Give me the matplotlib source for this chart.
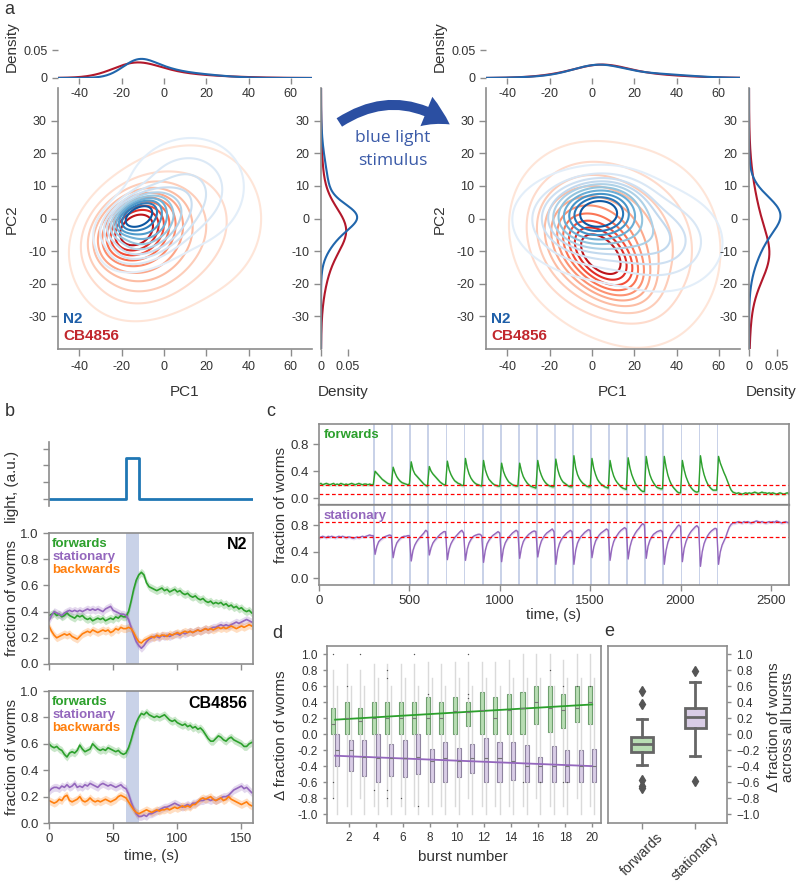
import numpy as np
import matplotlib
matplotlib.use("Agg")
import matplotlib.pyplot as plt
from matplotlib.colors import ListedColormap
from matplotlib.patches import FancyArrowPatch

plt.rcParams['font.family'] = ['Liberation Sans', 'DejaVu Sans']
plt.rcParams['axes.unicode_minus'] = False

W, H = 798, 882

# ---------------- data ----------------
# panel a: gaussian mixtures, rows = (mean x, mean y, sd x, sd y, rho, weight)
n2_pre = [[-13, 1, 7, 3.5, 0.5, 0.30], [-7, -3, 10, 5.5, 0.4, 0.40], [10, 8, 15, 9, 0.1, 0.30]]
cb_pre = [[-14, -3, 10, 6, 0.3, 0.40], [-8, -8, 15, 10, 0.2, 0.42], [15, 0, 20, 14, 0.0, 0.18]]
n2_post = [[3, 2, 11, 5, 0.1, 0.40], [5, -2, 20, 8, -0.1, 0.45], [35, -8, 15, 8, 0.0, 0.15]]
cb_post = [[5, -12, 11, 7, -0.5, 0.30], [0, -5, 17, 12, -0.1, 0.45], [25, -10, 20, 16, 0.0, 0.25]]

# panel b: single light pulse and mean fractions every 2 s
light_t = [0, 60, 70, 159]
light_v = [0, 1, 0, 0]
pulse = [60, 70]
t_b = np.arange(0, 160, 2)
n2_fwd = [0.37, 0.38, 0.39, 0.37, 0.38, 0.36, 0.37, 0.39, 0.37, 0.36, 0.35, 0.37, 0.36, 0.37, 0.35, 0.34,
          0.35, 0.33, 0.34, 0.35, 0.34, 0.35, 0.33, 0.34, 0.35, 0.34, 0.36, 0.35, 0.37, 0.36, 0.36, 0.40,
          0.48, 0.57, 0.64, 0.68, 0.70, 0.68, 0.62, 0.59, 0.58, 0.57, 0.56, 0.57, 0.58, 0.56, 0.57, 0.55,
          0.56, 0.57, 0.55, 0.56, 0.54, 0.53, 0.54, 0.52, 0.51, 0.52, 0.50, 0.49, 0.50, 0.48, 0.47, 0.48,
          0.46, 0.47, 0.46, 0.47, 0.45, 0.46, 0.44, 0.45, 0.43, 0.44, 0.42, 0.43, 0.41, 0.40, 0.41, 0.39]
n2_sta = [0.33, 0.37, 0.40, 0.39, 0.38, 0.37, 0.39, 0.40, 0.41, 0.40, 0.41, 0.40, 0.41, 0.40, 0.41, 0.42,
          0.41, 0.42, 0.41, 0.42, 0.41, 0.40, 0.42, 0.43, 0.44, 0.41, 0.40, 0.39, 0.38, 0.38, 0.37, 0.34,
          0.28, 0.22, 0.17, 0.14, 0.12, 0.14, 0.17, 0.19, 0.20, 0.21, 0.21, 0.20, 0.22, 0.21, 0.22, 0.21,
          0.22, 0.23, 0.23, 0.22, 0.24, 0.23, 0.24, 0.25, 0.24, 0.25, 0.26, 0.25, 0.26, 0.27, 0.26, 0.27,
          0.28, 0.28, 0.29, 0.30, 0.29, 0.30, 0.29, 0.30, 0.31, 0.32, 0.31, 0.32, 0.33, 0.34, 0.33, 0.32]
n2_bwd = [0.29, 0.25, 0.22, 0.20, 0.21, 0.22, 0.23, 0.22, 0.23, 0.21, 0.20, 0.19, 0.21, 0.23, 0.24, 0.25,
          0.24, 0.26, 0.25, 0.24, 0.25, 0.26, 0.25, 0.26, 0.24, 0.25, 0.27, 0.26, 0.28, 0.27, 0.27, 0.28,
          0.27, 0.24, 0.20, 0.17, 0.16, 0.18, 0.19, 0.20, 0.21, 0.20, 0.22, 0.21, 0.22, 0.22, 0.21, 0.23,
          0.22, 0.23, 0.24, 0.23, 0.24, 0.25, 0.24, 0.25, 0.24, 0.25, 0.26, 0.25, 0.26, 0.27, 0.26, 0.27,
          0.26, 0.27, 0.28, 0.27, 0.28, 0.27, 0.28, 0.29, 0.28, 0.27, 0.28, 0.29, 0.28, 0.29, 0.30, 0.29]
cb_fwd = [0.60, 0.58, 0.57, 0.58, 0.56, 0.55, 0.52, 0.50, 0.53, 0.54, 0.53, 0.55, 0.59, 0.56, 0.54, 0.55,
          0.56, 0.60, 0.58, 0.56, 0.55, 0.56, 0.55, 0.57, 0.56, 0.55, 0.54, 0.55, 0.53, 0.52, 0.53, 0.57,
          0.63, 0.70, 0.76, 0.80, 0.83, 0.82, 0.84, 0.82, 0.81, 0.80, 0.81, 0.80, 0.81, 0.82, 0.80, 0.78,
          0.77, 0.78, 0.76, 0.75, 0.74, 0.75, 0.73, 0.74, 0.72, 0.73, 0.71, 0.72, 0.70, 0.67, 0.64, 0.62,
          0.62, 0.64, 0.66, 0.65, 0.63, 0.62, 0.64, 0.65, 0.63, 0.62, 0.61, 0.60, 0.58, 0.58, 0.60, 0.61]
cb_sta = [0.24, 0.26, 0.27, 0.27, 0.26, 0.28, 0.27, 0.29, 0.27, 0.28, 0.30, 0.27, 0.28, 0.27, 0.29, 0.28,
          0.30, 0.29, 0.28, 0.27, 0.29, 0.30, 0.29, 0.28, 0.29, 0.28, 0.27, 0.28, 0.29, 0.27, 0.26, 0.22,
          0.16, 0.11, 0.07, 0.05, 0.05, 0.06, 0.05, 0.07, 0.07, 0.08, 0.09, 0.10, 0.11, 0.12, 0.12, 0.13,
          0.14, 0.15, 0.14, 0.13, 0.12, 0.13, 0.14, 0.13, 0.15, 0.15, 0.16, 0.17, 0.17, 0.18, 0.18, 0.17,
          0.18, 0.17, 0.18, 0.19, 0.20, 0.20, 0.21, 0.23, 0.25, 0.26, 0.27, 0.28, 0.26, 0.27, 0.25, 0.23]
cb_bwd = [0.17, 0.16, 0.15, 0.16, 0.18, 0.17, 0.20, 0.21, 0.17, 0.16, 0.17, 0.18, 0.20, 0.17, 0.16, 0.17,
          0.19, 0.17, 0.16, 0.17, 0.16, 0.17, 0.18, 0.17, 0.16, 0.17, 0.18, 0.20, 0.21, 0.20, 0.19, 0.16,
          0.13, 0.10, 0.08, 0.07, 0.08, 0.09, 0.10, 0.09, 0.08, 0.09, 0.10, 0.09, 0.10, 0.10, 0.11, 0.10,
          0.11, 0.12, 0.11, 0.12, 0.13, 0.12, 0.13, 0.12, 0.14, 0.14, 0.16, 0.18, 0.19, 0.18, 0.19, 0.20,
          0.18, 0.17, 0.18, 0.19, 0.17, 0.18, 0.20, 0.18, 0.17, 0.16, 0.15, 0.14, 0.15, 0.16, 0.14, 0.13]
ci_b = 0.03

# panel c: 20 bursts, fractions every 10 s
burst_on = np.arange(300, 2300, 100)
burst_len = 10
t_c = np.arange(0, 2610, 10)
c_fwd = [0.21, 0.22, 0.20, 0.21, 0.22, 0.21, 0.20, 0.21, 0.22, 0.20,
         0.21, 0.20, 0.22, 0.21, 0.20, 0.21, 0.20, 0.21, 0.22, 0.21,
         0.20, 0.21, 0.22, 0.21, 0.20, 0.21, 0.21, 0.20, 0.21, 0.20,
         0.20, 0.40, 0.37, 0.34, 0.31, 0.28, 0.26, 0.24, 0.22, 0.21,
         0.20, 0.46, 0.38, 0.32, 0.28, 0.25, 0.23, 0.22, 0.21, 0.20,
         0.21, 0.54, 0.42, 0.36, 0.33, 0.30, 0.27, 0.24, 0.21, 0.19,
         0.18, 0.47, 0.40, 0.36, 0.33, 0.30, 0.27, 0.24, 0.22, 0.20,
         0.20, 0.55, 0.42, 0.35, 0.30, 0.26, 0.24, 0.22, 0.21, 0.19,
         0.19, 0.59, 0.45, 0.36, 0.30, 0.26, 0.23, 0.21, 0.20, 0.19,
         0.18, 0.56, 0.42, 0.34, 0.28, 0.25, 0.22, 0.20, 0.19, 0.18,
         0.18, 0.52, 0.40, 0.33, 0.28, 0.24, 0.22, 0.20, 0.19, 0.18,
         0.18, 0.52, 0.40, 0.32, 0.27, 0.23, 0.20, 0.18, 0.17, 0.16,
         0.15, 0.56, 0.42, 0.34, 0.28, 0.24, 0.21, 0.19, 0.18, 0.17,
         0.17, 0.58, 0.43, 0.34, 0.28, 0.24, 0.22, 0.20, 0.18, 0.17,
         0.17, 0.63, 0.45, 0.35, 0.29, 0.25, 0.22, 0.20, 0.18, 0.17,
         0.17, 0.59, 0.44, 0.35, 0.28, 0.24, 0.21, 0.19, 0.17, 0.16,
         0.15, 0.56, 0.42, 0.33, 0.27, 0.23, 0.20, 0.17, 0.15, 0.14,
         0.13, 0.60, 0.45, 0.35, 0.28, 0.22, 0.18, 0.15, 0.12, 0.10,
         0.10, 0.62, 0.46, 0.35, 0.28, 0.23, 0.19, 0.16, 0.15, 0.14,
         0.14, 0.62, 0.46, 0.34, 0.26, 0.20, 0.16, 0.13, 0.10, 0.08,
         0.08, 0.56, 0.42, 0.32, 0.25, 0.19, 0.15, 0.12, 0.10, 0.09,
         0.10, 0.63, 0.46, 0.35, 0.27, 0.21, 0.17, 0.14, 0.12, 0.12,
         0.12, 0.62, 0.52, 0.45, 0.38, 0.32, 0.25, 0.18, 0.12, 0.09,
         0.08, 0.07, 0.08, 0.07, 0.06, 0.07, 0.08, 0.07, 0.08, 0.07,
         0.08, 0.09, 0.08, 0.07, 0.08, 0.09, 0.08, 0.08, 0.07, 0.08,
         0.07, 0.08, 0.07, 0.06, 0.07, 0.08, 0.07, 0.06, 0.07, 0.08,
         0.07]
c_sta = [0.60, 0.62, 0.63, 0.62, 0.61, 0.63, 0.62, 0.63, 0.62, 0.61,
         0.62, 0.63, 0.62, 0.63, 0.62, 0.61, 0.62, 0.62, 0.61, 0.60,
         0.61, 0.62, 0.61, 0.62, 0.63, 0.62, 0.63, 0.64, 0.65, 0.64,
         0.64, 0.36, 0.48, 0.55, 0.58, 0.60, 0.62, 0.63, 0.64, 0.65,
         0.64, 0.31, 0.45, 0.53, 0.57, 0.60, 0.62, 0.63, 0.63, 0.64,
         0.64, 0.26, 0.42, 0.50, 0.55, 0.59, 0.62, 0.65, 0.68, 0.72,
         0.70, 0.35, 0.46, 0.53, 0.57, 0.60, 0.63, 0.66, 0.68, 0.70,
         0.70, 0.28, 0.44, 0.52, 0.57, 0.61, 0.64, 0.67, 0.70, 0.72,
         0.68, 0.27, 0.44, 0.53, 0.58, 0.62, 0.64, 0.65, 0.66, 0.66,
         0.64, 0.24, 0.42, 0.52, 0.57, 0.61, 0.64, 0.66, 0.68, 0.70,
         0.68, 0.25, 0.44, 0.53, 0.58, 0.62, 0.65, 0.68, 0.70, 0.72,
         0.70, 0.30, 0.46, 0.55, 0.60, 0.63, 0.66, 0.68, 0.70, 0.71,
         0.70, 0.32, 0.47, 0.56, 0.61, 0.65, 0.68, 0.70, 0.72, 0.74,
         0.70, 0.21, 0.42, 0.52, 0.58, 0.62, 0.65, 0.68, 0.70, 0.72,
         0.70, 0.21, 0.42, 0.53, 0.59, 0.63, 0.66, 0.69, 0.71, 0.73,
         0.72, 0.31, 0.47, 0.56, 0.61, 0.65, 0.68, 0.70, 0.72, 0.74,
         0.72, 0.27, 0.45, 0.55, 0.61, 0.65, 0.69, 0.72, 0.74, 0.76,
         0.74, 0.29, 0.47, 0.57, 0.63, 0.68, 0.72, 0.75, 0.79, 0.82,
         0.80, 0.30, 0.48, 0.57, 0.62, 0.66, 0.68, 0.70, 0.71, 0.72,
         0.70, 0.21, 0.42, 0.54, 0.61, 0.66, 0.70, 0.73, 0.77, 0.80,
         0.78, 0.25, 0.45, 0.55, 0.62, 0.67, 0.71, 0.74, 0.77, 0.79,
         0.76, 0.18, 0.40, 0.52, 0.59, 0.64, 0.68, 0.71, 0.73, 0.75,
         0.74, 0.21, 0.40, 0.50, 0.56, 0.62, 0.70, 0.77, 0.81, 0.83,
         0.83, 0.84, 0.85, 0.84, 0.83, 0.85, 0.84, 0.85, 0.84, 0.83,
         0.84, 0.85, 0.86, 0.85, 0.84, 0.85, 0.84, 0.83, 0.84, 0.85,
         0.84, 0.85, 0.84, 0.86, 0.85, 0.84, 0.83, 0.84, 0.85, 0.84,
         0.83]
ci_c = 0.025
fwd_ref = [0.20, 0.07]
sta_ref = [0.84, 0.62]

# panel d: per-burst box stats
bursts = np.arange(1, 21)
fwd_q1 = [0.0, 0.0, 0.0, 0.0, 0.0, 0.0, 0.0, 0.0, 0.0, 0.0, 0.10, 0.0, 0.0, 0.0, 0.0, 0.13, 0.02, 0.07, 0.15, 0.12]
fwd_med = [0.13, 0.20, 0.16, 0.20, 0.20, 0.20, 0.20, 0.20, 0.20, 0.29, 0.27, 0.30, 0.20, 0.30, 0.33, 0.40, 0.33, 0.30, 0.33, 0.40]
fwd_q3 = [0.33, 0.40, 0.33, 0.40, 0.40, 0.40, 0.40, 0.46, 0.40, 0.46, 0.40, 0.53, 0.46, 0.50, 0.53, 0.60, 0.60, 0.50, 0.60, 0.60]
fwd_lo = [-0.80, -0.90, -0.80, -0.90, -0.90, -0.90, -0.90, -0.90, -0.90, -0.90, -0.80, -0.90, -0.90, -0.90, -0.90, -0.80, -0.90, -0.90, -0.80, -0.90]
fwd_hi = [0.80, 0.87, 0.80, 0.87, 0.87, 0.87, 0.87, 0.90, 0.87, 0.90, 0.90, 0.90, 0.90, 0.93, 1.0, 1.0, 1.0, 0.93, 1.0, 1.0]
fwd_out = [[1.0, -0.6, -0.8], [0.6], [1.0], [-0.7], [0.8, 0.7, -0.7, -0.8], [-0.8], [1.0], [0.5], [], [],
           [1.0, 0.45, 0.5], [], [], [], [-0.6], [], [0.8], [0.6, -0.6], [0.6], [0.6]]
sta_q1 = [-0.40, -0.46, -0.52, -0.60, -0.52, -0.53, -0.50, -0.60, -0.60, -0.53, -0.49, -0.60, -0.60, -0.57, -0.60, -0.60, -0.60, -0.60, -0.60, -0.60]
sta_med = [-0.20, -0.20, -0.28, -0.30, -0.30, -0.30, -0.28, -0.33, -0.30, -0.33, -0.30, -0.30, -0.30, -0.33, -0.40, -0.40, -0.40, -0.40, -0.40, -0.40]
sta_q3 = [0.0, -0.07, -0.07, 0.0, -0.12, -0.07, 0.0, -0.18, -0.10, -0.17, -0.12, -0.05, -0.10, -0.10, -0.13, -0.28, -0.15, -0.20, -0.20, -0.18]
sta_lo = [-1.0] * 20
sta_hi = [0.60, 0.60, 0.60, 0.70, 0.60, 0.70, 0.60, 0.70, 0.60, 0.70, 0.60, 0.70, 0.60, 0.70, 0.70, 0.70, 0.60, 0.70, 0.70, 0.70]
sta_out = [[], [], [], [], [], [], [-0.9], [], [], [], [], [], [], [], [], [-0.6], [], [-0.6], [], []]
fwd_fit = [0.18, 0.37]
sta_fit = [-0.27, -0.40]

# panel e: pooled over bursts
e_names = ['forwards', 'stationary']
e_q1 = [-0.22, 0.07]
e_med = [-0.125, 0.21]
e_q3 = [-0.04, 0.325]
e_lo = [-0.39, -0.27]
e_hi = [0.19, 0.65]
e_out = [[0.54, 0.37, -0.57, -0.65, -0.67], [0.79, -0.59]]

# ---------------- colours ----------------
BLUE, RED = '#2166ac', '#b2182b'
GREEN, PURPLE, ORANGE = '#2ca02c', '#9467bd', '#ff7f0e'
LGREEN, LPURPLE = '#b8ddb3', '#d9cde6'
STIM = '#c9d2e8'
GRAY = '#8c8c8c'
TXT = '#333333'
LAB = 11
BLUES = ListedColormap(plt.cm.Blues(np.linspace(0.1, 0.85, 256)))
REDS = ListedColormap(plt.cm.Reds(np.linspace(0.1, 0.8, 256)))

fig = plt.figure(figsize=(W / 100, H / 100), dpi=100)


def add_ax(x0, y0, x1, y1):
    return fig.add_axes([x0 / W, 1 - y1 / H, (x1 - x0) / W, (y1 - y0) / H])


def ftext(x, y, s, **kw):
    fig.text(x / W, 1 - y / H, s, **kw)


def style(ax, spines=('left', 'bottom'), size=9):
    for k, sp in ax.spines.items():
        sp.set_visible(k in spines)
        sp.set_color(GRAY)
        sp.set_linewidth(1.2)
    ax.tick_params(colors=GRAY, labelcolor=TXT, labelsize=size, length=4, width=1)


def mix_density(comps, X, Y):
    Z = np.zeros_like(X)
    for mx, my, sx, sy, r, w in comps:
        dx = (X - mx) / sx
        dy = (Y - my) / sy
        q = (dx ** 2 - 2 * r * dx * dy + dy ** 2) / (1 - r ** 2)
        Z += w * np.exp(-q / 2) / (2 * np.pi * sx * sy * np.sqrt(1 - r ** 2))
    return Z


def iso_levels(Z, props):
    vals = np.sort(Z.ravel())[::-1]
    cum = np.cumsum(vals) / vals.sum()
    idx = np.searchsorted(cum, 1 - np.asarray(props))
    return np.unique(np.take(vals, idx, mode='clip'))


# ---------------- panel a ----------------
xg = np.linspace(-90, 110, 401)
yg = np.linspace(-80, 80, 321)
X, Y = np.meshgrid(xg, yg)
step = xg[1] - xg[0]
props = np.linspace(0.05, 0.85, 10)

for x0, n2c, cbc, dmax in [(58, n2_pre, cb_pre, 0.0815), (486, n2_post, cb_post, 0.0786)]:
    main = add_ax(x0, 88, x0 + 254, 349)
    top = add_ax(x0, 45, x0 + 254, 78)
    side = add_ax(x0 + 263, 88, x0 + 307, 349)
    zn = mix_density(n2c, X, Y)
    zc = mix_density(cbc, X, Y)
    main.contour(X, Y, zc, levels=iso_levels(zc, props), cmap=REDS, linewidths=1.5)
    main.contour(X, Y, zn, levels=iso_levels(zn, props), cmap=BLUES, linewidths=1.5)
    main.set_xlim(-50, 70)
    main.set_ylim(-40, 40)
    main.set_xticks(range(-40, 61, 20))
    main.set_yticks(range(-30, 31, 10))
    style(main)
    main.tick_params(length=5)
    main.text(0.02, 0.10, 'N2', color='#1f5fa8', fontsize=11, fontweight='bold', transform=main.transAxes)
    main.text(0.02, 0.035, 'CB4856', color='#c1272d', fontsize=11, fontweight='bold', transform=main.transAxes)

    for z, c in [(zc, RED), (zn, BLUE)]:
        top.plot(xg, z.sum(axis=0) * step, color=c, lw=1.5)
        side.plot(z.sum(axis=1) * step, yg, color=c, lw=1.5)
    top.set_xlim(-50, 70)
    top.set_ylim(0, 0.059)
    top.set_xticks(range(-40, 61, 20))
    top.set_yticks([0, 0.05])
    top.set_yticklabels(['0', '0.05'])
    style(top, spines=())
    top.tick_params(axis='x', pad=3)

    side.set_ylim(-40, 40)
    side.set_xlim(0, dmax)
    side.set_yticks(range(-30, 31, 10))
    side.set_xticks([0, 0.05])
    side.set_xticklabels(['0', '0.05'])
    style(side, spines=('left',))
    side.tick_params(length=5)

    ftext(x0 - 46, 47, 'Density', rotation=90, ha='center', va='center', fontsize=LAB, color=TXT)
    ftext(x0 - 46, 219, 'PC2', rotation=90, ha='center', va='center', fontsize=LAB, color=TXT)
    ftext(x0 + 127, 392, 'PC1', ha='center', va='center', fontsize=LAB, color=TXT)
    ftext(x0 + 285, 392, 'Density', ha='center', va='center', fontsize=LAB, color=TXT)

arrow = FancyArrowPatch((337 / W, 1 - 124 / H), (452 / W, 1 - 126 / H), transform=fig.transFigure,
                        connectionstyle='arc3,rad=-0.35',
                        arrowstyle='simple,tail_width=0.6,head_width=1.9,head_length=1.6',
                        mutation_scale=12, color='#2b4fa2', lw=0)
fig.patches.append(arrow)
ftext(393, 138, 'blue light', ha='center', va='center', fontsize=12.5, color='#3a5aa8', family=['Open Sans', 'DejaVu Sans'])
ftext(393, 161, 'stimulus', ha='center', va='center', fontsize=12.5, color='#3a5aa8', family=['Open Sans', 'DejaVu Sans'])

# ---------------- panel b ----------------
ax_l = add_ax(49, 442, 253, 506)
ax_l.plot(light_t, light_v, drawstyle='steps-post', color='#1f77b4', lw=2)
ax_l.set_xlim(0, 159)
ax_l.set_ylim(-0.17, 1.4)
ax_l.set_yticks([0, 0.41, 0.83, 1.24])
ax_l.set_yticklabels([])
ax_l.set_xticks([])
style(ax_l, spines=('left',))
ftext(12, 487, 'light, (a.u.)', rotation=90, ha='center', va='center', fontsize=LAB, color=TXT)

for (y0, y1, fw, st, bw, name, show_x) in [
        (533, 664, n2_fwd, n2_sta, n2_bwd, 'N2', False),
        (691, 823, cb_fwd, cb_sta, cb_bwd, 'CB4856', True)]:
    ax = add_ax(49, y0, 253, y1)
    ax.axvspan(pulse[0], pulse[1], color=STIM, lw=0)
    for vals, c in [(fw, GREEN), (st, PURPLE), (bw, ORANGE)]:
        v = np.array(vals)
        ax.fill_between(t_b, v - ci_b, v + ci_b, color=c, alpha=0.25, lw=0)
        ax.plot(t_b, v, color=c, lw=1.2)
    ax.set_xlim(0, 159)
    ax.set_ylim(0, 1.0)
    ax.set_yticks(np.arange(0, 1.01, 0.2))
    ax.set_yticklabels([f'{v:.1f}' for v in np.arange(0, 1.01, 0.2)])
    ax.set_xticks([0, 50, 100, 150])
    style(ax, spines=('left', 'bottom', 'top', 'right'), size=9.5)
    if not show_x:
        ax.set_xticklabels([])
    ax.text(0.015, 0.895, 'forwards', color=GREEN, fontsize=9.5, fontweight='bold', transform=ax.transAxes)
    ax.text(0.015, 0.795, 'stationary', color=PURPLE, fontsize=9.5, fontweight='bold', transform=ax.transAxes)
    ax.text(0.015, 0.695, 'backwards', color=ORANGE, fontsize=9.5, fontweight='bold', transform=ax.transAxes)
    ax.text(0.97, 0.875, name, color='black', fontsize=11.5, fontweight='bold', ha='right', transform=ax.transAxes)
    ftext(12, (y0 + y1) / 2, 'fraction of worms', rotation=90, ha='center', va='center', fontsize=LAB, color=TXT)
ftext(151, 856, 'time, (s)', ha='center', va='center', fontsize=LAB, color=TXT)

# ---------------- panel c ----------------
for (y0, y1, vals, c, ref, lab, show_x) in [
        (424, 505, c_fwd, GREEN, fwd_ref, 'forwards', False),
        (505, 585, c_sta, PURPLE, sta_ref, 'stationary', True)]:
    ax = add_ax(319, y0, 789, y1)
    for t0 in burst_on:
        ax.axvspan(t0, t0 + burst_len, color=STIM, lw=0)
    v = np.array(vals)
    ax.fill_between(t_c, v - ci_c, v + ci_c, color=c, alpha=0.2, lw=0)
    ax.plot(t_c, v, color=c, lw=1)
    for r in ref:
        ax.axhline(r, color='red', ls='--', lw=0.9, dashes=(3, 2))
    ax.set_xlim(0, 2600)
    ax.set_ylim(-0.1, 1.1)
    ax.set_yticks([0, 0.4, 0.8])
    ax.set_yticklabels(['0.0', '0.4', '0.8'])
    ax.set_xticks(range(0, 2600, 500))
    style(ax, spines=('left', 'bottom', 'top', 'right'), size=9.5)
    if not show_x:
        ax.set_xticklabels([])
        ax.spines['bottom'].set_color('#666666')
        ax.spines['bottom'].set_linewidth(1.6)
    ax.text(0.01, 0.83, lab, color=c, fontsize=9.5, fontweight='bold', transform=ax.transAxes)
ftext(281, 505, 'fraction of worms', rotation=90, ha='center', va='center', fontsize=LAB, color=TXT)
ftext(554, 615, 'time, (s)', ha='center', va='center', fontsize=LAB, color=TXT)

# ---------------- panel d ----------------
ax_d = add_ax(327, 646, 601, 823)


def box_stats(q1, med, q3, lo, hi, out):
    return [dict(q1=a, med=b, q3=c, whislo=d, whishi=e, fliers=f) for a, b, c, d, e, f in zip(q1, med, q3, lo, hi, out)]


for stats, pos, face, edge in [
        (box_stats(fwd_q1, fwd_med, fwd_q3, fwd_lo, fwd_hi, fwd_out), bursts - 0.15, LGREEN, '#6f9f6f'),
        (box_stats(sta_q1, sta_med, sta_q3, sta_lo, sta_hi, sta_out), bursts + 0.15, LPURPLE, '#8f84a0')]:
    ax_d.bxp(stats, positions=pos, widths=0.3, patch_artist=True, showcaps=False, manage_ticks=False,
             boxprops=dict(facecolor=face, edgecolor=edge, lw=0.8),
             medianprops=dict(color='#777777', lw=0.8),
             whiskerprops=dict(color='#dadada', lw=1),
             flierprops=dict(marker='.', ms=2, mfc='#555555', mec='none'))
ax_d.plot([bursts[0], bursts[-1]], fwd_fit, color=GREEN, lw=1.3)
ax_d.plot([bursts[0], bursts[-1]], sta_fit, color=PURPLE, lw=1.3)
ax_d.set_xlim(0.4, 20.65)
ax_d.set_ylim(-1.11, 1.1)
ax_d.set_xticks(range(2, 21, 2))
ax_d.set_xticklabels([str(i) for i in range(2, 21, 2)])
yt = np.round(np.arange(-1.0, 1.01, 0.2), 1)
ax_d.set_yticks(yt)
ax_d.set_yticklabels([f'{v:.1f}' if v != 0 else '0.0' for v in yt])
style(ax_d, spines=('left', 'bottom', 'top', 'right'), size=8.5)
ax_d.tick_params(length=3)
ftext(281, 735, '\u0394 fraction of worms', rotation=90, ha='center', va='center', fontsize=LAB, color=TXT)
ftext(463, 857, 'burst number', ha='center', va='center', fontsize=LAB, color=TXT)

# ---------------- panel e ----------------
ax_e = add_ax(608, 646, 727, 823)
e_stats = box_stats(e_q1, e_med, e_q3, e_lo, e_hi, e_out)
for i, face in enumerate([LGREEN, LPURPLE]):
    ax_e.bxp([e_stats[i]], positions=[i], widths=0.4, patch_artist=True, manage_ticks=False,
             boxprops=dict(facecolor=face, edgecolor='#666666', lw=2),
             medianprops=dict(color='#666666', lw=2),
             whiskerprops=dict(color='#666666', lw=2),
             capprops=dict(color='#666666', lw=2),
             capwidths=0.2,
             flierprops=dict(marker='d', ms=5, mfc='#555555', mec='#555555'))
ax_e.set_xlim(-0.64, 1.6)
ax_e.set_ylim(-1.11, 1.1)
ax_e.set_xticks([0, 1])
ax_e.set_xticklabels(e_names, rotation=45, ha='center')
ax_e.yaxis.tick_right()
ax_e.set_yticks(yt)
ax_e.set_yticklabels([f'{v:.1f}'.replace('-', '\u2212') if v != 0 else '0.0' for v in yt])
style(ax_e, spines=('left', 'bottom', 'top', 'right'), size=8.5)
ax_e.tick_params(axis='y', length=3)
ax_e.tick_params(axis='x', labelsize=10, length=4, pad=1)
ftext(781, 727, '\u0394 fraction of worms\nacross all bursts', rotation=90, ha='center', va='center',
      fontsize=LAB, color=TXT, linespacing=1.05)

# panel letters
for x, y, s in [(4, 10, 'a'), (5, 412, 'b'), (266, 412, 'c'), (272, 633, 'd'), (604, 632, 'e')]:
    ftext(x, y, s, ha='left', va='center', fontsize=13, color=TXT)

fig.savefig('out.png', dpi=100)
